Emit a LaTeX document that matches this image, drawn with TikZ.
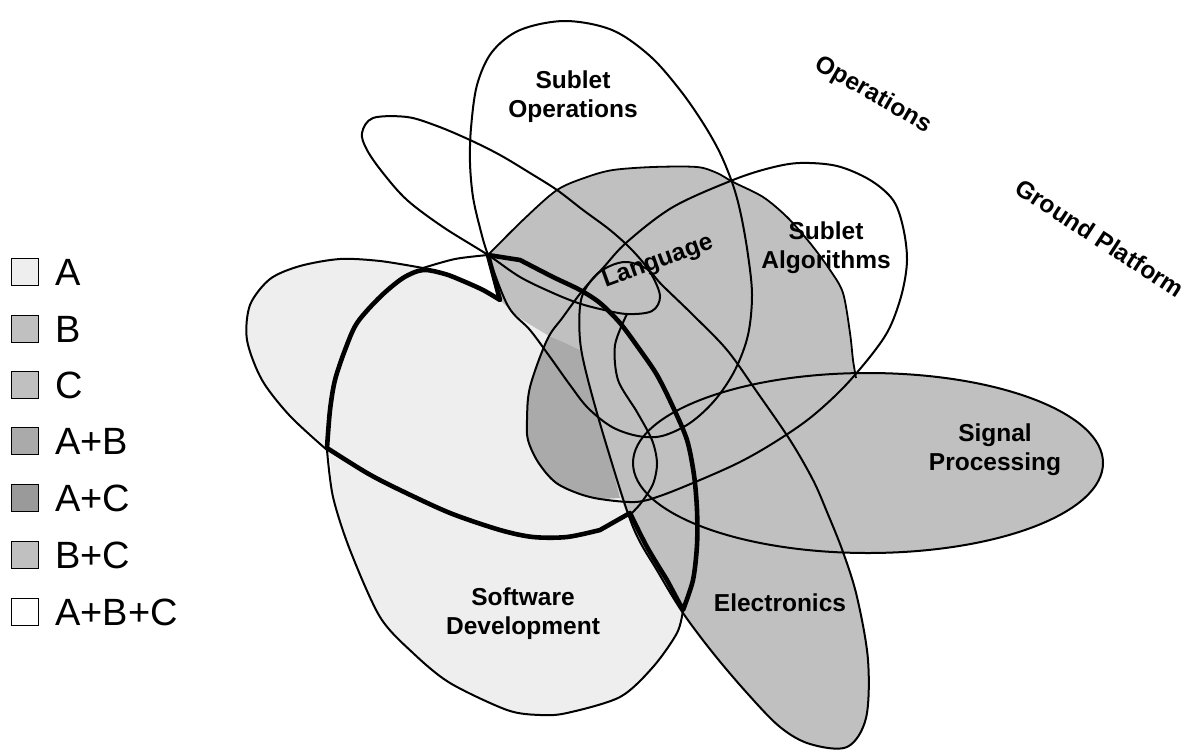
\documentclass[tikz,border=0pt]{standalone}
\usepackage{fontspec}
\setmainfont{Liberation Sans}
\definecolor{shadeA}{HTML}{EEEEEE}
\definecolor{shadeB}{HTML}{C0C0C0}
\definecolor{shadeAB}{HTML}{AAAAAA}
\definecolor{shadeAC}{HTML}{9A9A9A}
\begin{document}
\begin{tikzpicture}[x=1pt,y=-1pt,
  thinline/.style={line width=2pt, line join=round},
  boldline/.style={line width=4.6pt, line join=round},
  areatext/.style={font=\fontsize{24.5}{29}\selectfont\bfseries, align=center},
  keytext/.style={font=\fontsize{38}{42}\selectfont, anchor=west, inner sep=0pt},
  swatch/.style={draw=black, line width=1.6pt, minimum size=27pt, inner sep=0pt}
]
\useasboundingbox (0,0) rectangle (1198,749);

% ---------- filled areas ----------
% light area (A)
\fill[shadeA]
  plot[smooth, tension=0.5] coordinates {(500,300) (520,318) (549,336) (580,350)}
  -- plot[smooth, tension=0.5] coordinates {(588,380) (607,447) (620,495) (633,527) (658,572) (683,612)}
  -- plot[smooth, tension=0.5] coordinates {(677,633) (653,667) (620,697) (567,713) (540,715) (507,710) (450,683) (413,653) (380,617) (350,550) (333,497) (327,450) (290,416) (262,380) (247,340) (250,305) (270,279) (300,266) (340,259) (380,261) (423,268) (463,281) (500,300)}
  -- cycle;
% grey area (B, C, B+C)
\fill[shadeB]
  plot[smooth, tension=0.5] coordinates {(488,255) (523,220) (557,190) (587,177) (613,170) (653,167) (697,167) (717,173) (733,182) (763,197) (787,217) (810,243) (830,270) (843,293) (850,333) (853,360) (856,380)}
  -- (850,470) -- (813,480)
  -- plot[smooth, tension=0.5] coordinates {(827,512) (843,552) (857,597) (868,660) (866,718) (847,747) (810,744) (780,727) (747,693) (713,653) (683,613)}
  -- plot[smooth, tension=0.5] coordinates {(658,572) (633,527) (620,495) (607,447) (588,380) (580,350)}
  -- plot[smooth, tension=0.5] coordinates {(549,336) (520,318) (500,300)}
  -- cycle;
\fill[shadeB] (868,463) ellipse [x radius=235, y radius=90];
% darker overlap (A+B)
\fill[shadeAB]
  plot[smooth, tension=0.5] coordinates {(549,336) (565,343) (580,350)}
  -- plot[smooth, tension=0.5] coordinates {(588,380) (607,447) (620,498)}
  -- plot[smooth, tension=0.5] coordinates {(600,499) (577,493) (555,482) (538,462) (528,440) (527,420) (530,387) (540,358) (549,336)}
  -- cycle;

% ---------- outlines ----------
% scalloped edge of the grey area
\draw[line width=1.8pt, line join=round]
  plot[smooth, tension=0.5] coordinates {(488,255) (523,220) (557,190) (587,177) (613,170) (653,167) (697,167) (717,173) (733,182) (763,197) (787,217) (810,243) (830,270) (843,293) (850,333) (853,360) (856,378)};
% Sublet Operations
\draw[thinline] plot[smooth cycle, tension=0.55] coordinates {
  (488,255) (480,228) (473,197) (470,163) (471,128) (477,85) (492,52) (520,30) (565,21) (612,30) (650,56) (680,90) (703,123) (720,153) (733,185) (741,215) (748,255) (752,295) (748,335) (735,370) (715,400) (690,423) (662,436) (638,436) (612,427) (588,408) (570,385) (550,357) (530,330) (508,306)};
% Language
\draw[thinline] plot[smooth cycle, tension=0.55] coordinates {
  (362,133) (373,118) (407,117) (437,126) (470,140) (500,155) (530,173) (557,190) (583,210) (610,230) (632,250) (650,272) (660,296) (652,311) (627,314) (600,309) (578,303) (553,293) (520,277) (488,255) (443,227) (407,200) (383,173) (367,150)};
% Electronics
\draw[thinline] plot[smooth cycle, tension=0.55] coordinates {
  (627,262) (647,269) (662,285) (693,315) (727,350) (757,392) (790,440) (813,480) (827,512) (843,552) (857,597) (868,660) (866,718) (847,747) (810,744) (780,727) (747,693) (713,653) (683,613) (658,572) (633,527) (607,447) (588,380) (580,340) (581,300) (594,277) (610,266)};
% Sublet Algorithms
\draw[thinline] plot[smooth cycle, tension=0.55] coordinates {
  (527,420) (530,387) (547,340) (563,317) (583,290) (603,268) (627,242) (673,207) (733,180) (770,168) (800,163) (837,166) (870,180) (893,200) (903,227) (907,260) (902,293) (890,327) (873,353) (843,388) (810,418) (775,442) (740,462) (700,480) (660,496) (635,502) (600,499) (577,493) (555,482) (538,462) (528,440)};
% Signal Processing
\draw[thinline] (868,463) ellipse [x radius=235, y radius=90];
% thin parts of the Software Development outlines
\draw[thinline] plot[smooth, tension=0.5] coordinates {(423,268) (380,261) (340,259) (300,266) (270,279) (250,305) (247,340) (262,380) (290,416) (327,450)};
\draw[thinline] plot[smooth, tension=0.5] coordinates {(683,610) (677,633) (653,667) (620,697) (567,713) (540,715) (507,710) (450,683) (413,653) (380,617) (350,550) (333,497) (327,450)};
\draw[thinline] plot[smooth, tension=0.5] coordinates {(423,268) (455,259) (488,255)};
\draw[thinline] plot[smooth, tension=0.5] coordinates {(627,314) (615,345) (618,380) (637,412) (652,440) (657,463) (653,484) (641,503) (630,515)};
% bold outline
\draw[boldline]
  plot[smooth, tension=0.5] coordinates {(327,448) (330,410) (335,380) (345,350) (357,323) (380,297) (403,278) (423,270) (445,274) (463,281) (483,290) (500,300)}
  -- (488,255)
  -- plot[smooth, tension=0.5] coordinates {(520,260) (553,277) (580,290) (600,303) (620,323) (640,350) (657,375) (673,407) (687,440) (694,475) (697,510) (697,545) (693,580) (683,610)}
  -- plot[smooth, tension=0.5] coordinates {(667,580) (647,547) (630,513)}
  -- plot[smooth, tension=0.5] coordinates {(600,530) (567,537) (533,537) (500,530) (450,513) (400,490) (367,473) (327,448)}
  -- cycle;

% ---------- labels ----------
\node[areatext] (subops) at (573,97) {Sublet\\Operations};
\node[areatext] (subalg) at (826,248) {Sublet\\Algorithms};
\node[areatext, rotate=20] (lang) at (658,262) {Language};
\node[areatext] (sigproc) at (995,450) {Signal\\Processing};
\node[areatext] (elec) at (780,603) {Electronics};
\node[areatext] (swdev) at (523,614) {Software\\Development};
\node[areatext, rotate=-30] (ops) at (873,95) {Operations};
\node[areatext, rotate=-33] (ground) at (1100,238) {Ground Platform};

% ---------- key ----------
\node[swatch, fill=shadeA]  (keyA)   at (25,272) {};
\node[swatch, fill=shadeB]  (keyB)   at (25,329) {};
\node[swatch, fill=shadeB]  (keyC)   at (25,385) {};
\node[swatch, fill=shadeAB] (keyAB)  at (25,441) {};
\node[swatch, fill=shadeAC] (keyAC)  at (25,498) {};
\node[swatch, fill=shadeB]  (keyBC)  at (25,555) {};
\node[swatch, fill=white]   (keyABC) at (25,612) {};
\node[keytext] (lblA)   at (55,272) {A};
\node[keytext] (lblB)   at (55,329) {B};
\node[keytext] (lblC)   at (55,385) {C};
\node[keytext] (lblAB)  at (55,441) {A+B};
\node[keytext] (lblAC)  at (55,498) {A+C};
\node[keytext] (lblBC)  at (55,555) {B+C};
\node[keytext] (lblABC) at (55,612) {A+B+C};
\end{tikzpicture}
\end{document}
